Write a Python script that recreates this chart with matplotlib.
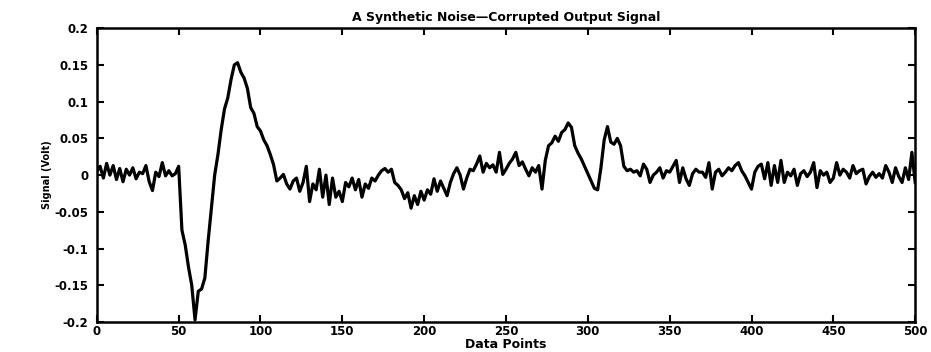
import numpy as np
import matplotlib
matplotlib.use('Agg')
import matplotlib.pyplot as plt

# signal, every second data point (0, 2, ..., 500)
sig_0_48 = [0.005, 0.012, -0.004, 0.016, 0.000, 0.013, -0.006, 0.009, -0.009, 0.008,
            0.000, 0.010, -0.005, 0.004, 0.002, 0.013, -0.009, -0.021, 0.004, -0.002,
            0.017, -0.001, 0.006, -0.001, 0.002]
sig_50_98 = [0.012, -0.075, -0.095, -0.125, -0.150, -0.197, -0.158, -0.155, -0.140, -0.090,
             -0.045, 0.000, 0.028, 0.062, 0.090, 0.105, 0.130, 0.150, 0.153, 0.140,
             0.132, 0.118, 0.092, 0.084, 0.066]
sig_100_148 = [0.060, 0.048, 0.040, 0.028, 0.014, -0.008, -0.004, 0.001, -0.012, -0.019,
               -0.008, -0.004, -0.022, -0.010, 0.012, -0.036, -0.012, -0.020, 0.008, -0.030,
               0.000, -0.040, -0.004, -0.030, -0.022]
sig_150_198 = [-0.036, -0.010, -0.016, -0.004, -0.020, -0.006, -0.030, -0.012, -0.018, -0.004,
               -0.008, 0.000, 0.006, 0.009, 0.004, 0.008, -0.010, -0.014, -0.020, -0.032,
               -0.024, -0.045, -0.028, -0.040, -0.022]
sig_200_248 = [-0.034, -0.020, -0.026, -0.005, -0.022, -0.008, -0.018, -0.028, -0.010, 0.002,
               0.010, 0.000, -0.019, -0.004, 0.008, 0.006, 0.015, 0.026, 0.004, 0.016,
               0.010, 0.014, 0.004, 0.031, 0.001]
sig_250_298 = [0.008, 0.016, 0.022, 0.031, 0.013, 0.018, 0.008, -0.001, 0.010, 0.004,
               0.013, -0.019, 0.020, 0.040, 0.044, 0.053, 0.046, 0.058, 0.062, 0.071,
               0.065, 0.040, 0.030, 0.022, 0.012]
sig_300_348 = [0.002, -0.008, -0.018, -0.020, 0.010, 0.048, 0.066, 0.045, 0.042, 0.050,
               0.040, 0.012, 0.006, 0.008, 0.004, 0.006, -0.001, 0.015, 0.008, -0.010,
               0.000, 0.004, 0.010, -0.004, 0.006]
sig_350_398 = [0.004, 0.012, 0.020, -0.010, 0.010, -0.005, -0.014, 0.002, 0.008, 0.004,
               0.004, -0.003, 0.017, -0.019, 0.004, 0.008, -0.001, 0.004, 0.010, 0.006,
               0.013, 0.017, 0.006, -0.001, -0.010]
sig_400_448 = [-0.019, 0.004, 0.012, 0.015, -0.005, 0.017, -0.014, 0.013, -0.010, 0.020,
               -0.010, 0.004, -0.001, 0.008, -0.014, 0.002, 0.006, -0.002, 0.004, 0.017,
               -0.017, 0.006, 0.000, 0.004, -0.010]
sig_450_500 = [-0.004, 0.017, 0.000, 0.008, 0.004, -0.004, 0.013, 0.002, 0.006, 0.008,
               -0.012, -0.002, 0.004, -0.003, 0.002, -0.004, 0.013, 0.004, -0.010, 0.010,
               -0.002, -0.010, 0.010, -0.006, 0.031, -0.010]

signal = np.array(sig_0_48 + sig_50_98 + sig_100_148 + sig_150_198 + sig_200_248 +
                  sig_250_298 + sig_300_348 + sig_350_398 + sig_400_448 + sig_450_500)
points = np.arange(0, 501, 2)

xticks = [0, 50, 100, 150, 200, 250, 300, 350, 400, 450, 500]
yticks = [-0.2, -0.15, -0.1, -0.05, 0, 0.05, 0.1, 0.15, 0.2]
ytick_labels = ['-0.2', '-0.15', '-0.1', '-0.05', '0', '0.05', '0.1', '0.15', '0.2']

plt.rcParams['font.family'] = ['DejaVu Sans']
plt.rcParams['font.weight'] = 'bold'

fig = plt.figure(figsize=(9.31, 3.52), dpi=100)
ax = fig.add_axes([0.104, 0.085, 0.879, 0.835])
ax.plot(points, signal, color='black', linewidth=2.3)

ax.set_xlim(0, 500)
ax.set_ylim(-0.2, 0.2)
ax.set_xticks(xticks)
ax.set_xticklabels([str(t) for t in xticks])
ax.set_yticks(yticks)
ax.set_yticklabels(ytick_labels)
ax.tick_params(direction='in', length=5, width=1.5, top=True, right=True,
               labelsize=8.5, pad=2)
ax.tick_params(axis='y', pad=6)
for s in ax.spines.values():
    s.set_linewidth(1.8)

ax.set_title('A Synthetic Noise\u2014Corrupted Output Signal', fontsize=9,
             fontweight='bold', pad=5)
ax.set_xlabel('Data Points', fontsize=9, fontweight='bold', labelpad=0)
ax.set_ylabel('Signal (Volt)', fontsize=7, fontweight='bold', labelpad=2)

fig.savefig('out.png', dpi=100)
